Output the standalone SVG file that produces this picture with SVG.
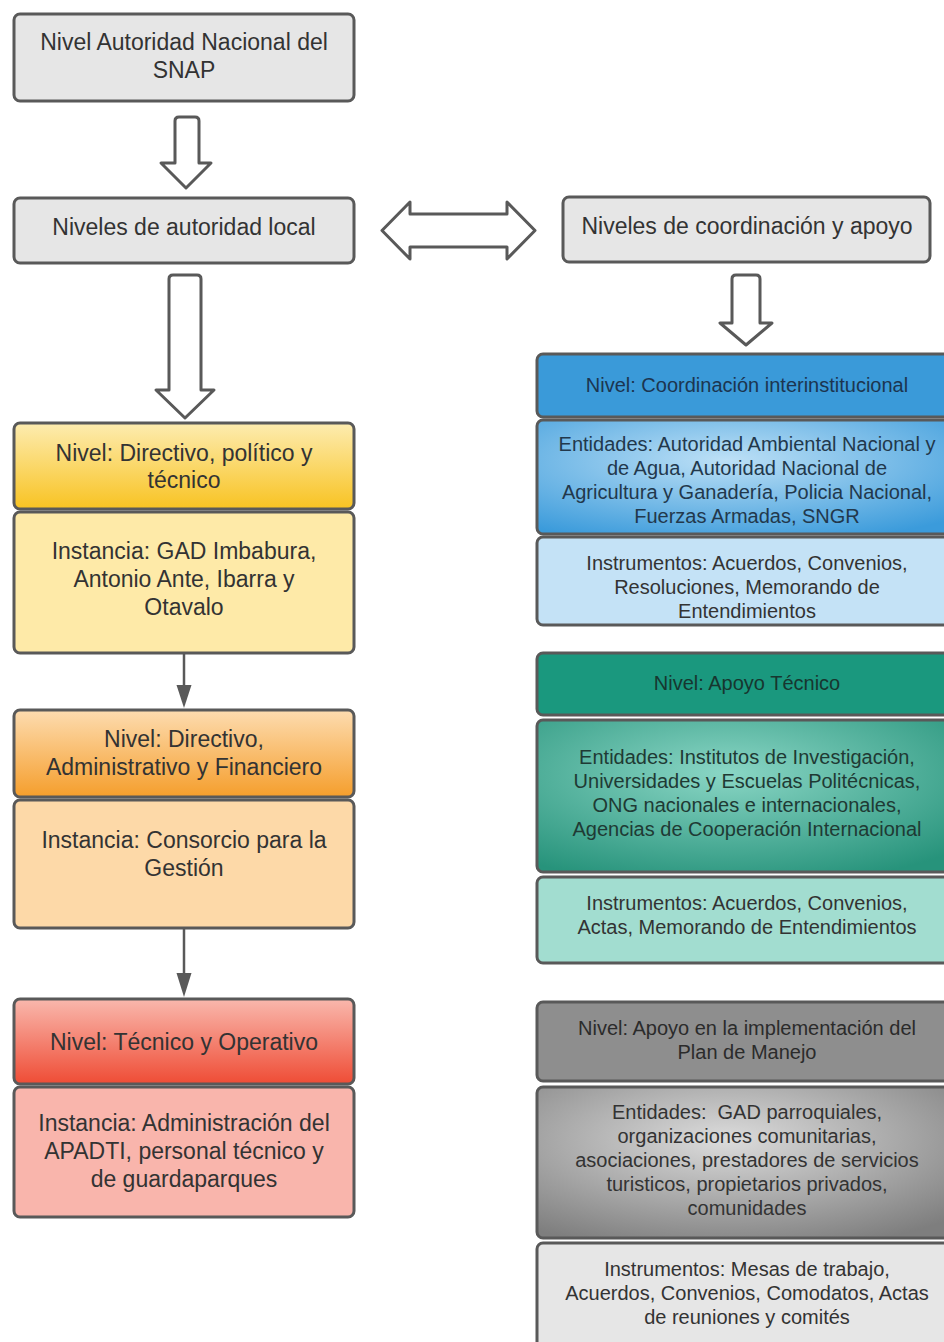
<svg xmlns="http://www.w3.org/2000/svg" width="944" height="1342" viewBox="0 0 944 1342">
<style>
.box{stroke:#595959;stroke-width:3;}
.hol{fill:#ffffff;stroke:#595959;stroke-width:3;stroke-linejoin:round;}
.lt{font-family:"Liberation Sans",Arial,sans-serif;font-size:23px;fill:#333333;text-anchor:middle;}
.rt{font-family:"Liberation Sans",Arial,sans-serif;font-size:20px;fill:#333333;text-anchor:middle;}
.con{stroke:#595959;stroke-width:2.5;fill:none;}
</style>
<defs>
<linearGradient id="gY" x1="0" y1="0" x2="0" y2="1"><stop offset="0" stop-color="#fdecb0"/><stop offset="1" stop-color="#f8c322"/></linearGradient>
<linearGradient id="gO" x1="0" y1="0" x2="0" y2="1"><stop offset="0" stop-color="#fddcb0"/><stop offset="1" stop-color="#f59e2c"/></linearGradient>
<linearGradient id="gR" x1="0" y1="0" x2="0" y2="1"><stop offset="0" stop-color="#f9b8ad"/><stop offset="1" stop-color="#ef4c35"/></linearGradient>
<radialGradient id="rB" cx="0.45" cy="0.35" r="0.75"><stop offset="0" stop-color="#bde0f6"/><stop offset="1" stop-color="#3b9bdb"/></radialGradient>
<radialGradient id="rT" cx="0.45" cy="0.35" r="0.75"><stop offset="0" stop-color="#8ad6c5"/><stop offset="1" stop-color="#27937b"/></radialGradient>
<radialGradient id="rG" cx="0.45" cy="0.35" r="0.75"><stop offset="0" stop-color="#dcdcdc"/><stop offset="1" stop-color="#7e7e7e"/></radialGradient>
<marker id="ah" viewBox="0 0 10 10" refX="10" refY="5" markerWidth="6" markerHeight="9" markerUnits="userSpaceOnUse" orient="auto" preserveAspectRatio="none">
<path d="M0,0 L10,5 L0,10 Z" fill="#595959"/>
</marker>
</defs>
<rect width="944" height="1342" fill="#ffffff"/>

<g id="connectors">
<path class="hol" d="M175,163 L175,121 Q175,117 179,117 L195,117 Q199,117 199,121 L199,163 L211,163 L186,188 L161,163 Z"/>
<path class="hol" d="M169,390 L169,279 Q169,275 173,275 L197,275 Q201,275 201,279 L201,390 L214,390 L185,418 L156,390 Z"/>
<path class="hol" d="M732,323 L732,279 Q732,275 736,275 L756,275 Q760,275 760,279 L760,323 L772,323 L746,345 L720,323 Z"/>
<path class="hol" d="M382,230.5 L410,202 L410,214 L507,214 L507,202 L535,230.5 L507,259 L507,247 L410,247 L410,259 Z"/>
<line class="con" x1="184" y1="654" x2="184" y2="685"/>
<path d="M176.5,685 L191.5,685 L184,708 Z" fill="#595959"/>
<line class="con" x1="184" y1="929" x2="184" y2="973"/>
<path d="M176.5,973 L191.5,973 L184,997 Z" fill="#595959"/>
</g>

<g id="n-snap">
<rect class="box" x="14" y="14" width="340" height="87" rx="6" fill="#e6e6e6"/>
<text class="lt" x="184" y="50">Nivel Autoridad Nacional del</text>
<text class="lt" x="184" y="78">SNAP</text>
</g>

<g id="n-local">
<rect class="box" x="14" y="198" width="340" height="65" rx="6" fill="#e6e6e6"/>
<text class="lt" x="184" y="235">Niveles de autoridad local</text>
</g>

<g id="n-coord">
<rect class="box" x="563" y="197" width="367" height="65" rx="6" fill="#e6e6e6"/>
<text class="lt" x="747" y="234">Niveles de coordinación y apoyo</text>
</g>

<g id="n-directivo-politico">
<rect class="box" x="14" y="423" width="340" height="86" rx="6" fill="url(#gY)"/>
<text class="lt" x="184" y="461">Nivel: Directivo, político y</text>
<text class="lt" x="184" y="488">técnico</text>
</g>
<g id="n-gad">
<rect class="box" x="14" y="512" width="340" height="141" rx="6" fill="#feeaa8"/>
<text class="lt" x="184" y="559">Instancia: GAD Imbabura,</text>
<text class="lt" x="184" y="587">Antonio Ante, Ibarra y</text>
<text class="lt" x="184" y="615">Otavalo</text>
</g>

<g id="n-directivo-admin">
<rect class="box" x="14" y="710" width="340" height="87" rx="6" fill="url(#gO)"/>
<text class="lt" x="184" y="747">Nivel: Directivo,</text>
<text class="lt" x="184" y="775">Administrativo y Financiero</text>
</g>
<g id="n-consorcio">
<rect class="box" x="14" y="800" width="340" height="128" rx="6" fill="#fdd9a8"/>
<text class="lt" x="184" y="848">Instancia: Consorcio para la</text>
<text class="lt" x="184" y="876">Gestión</text>
</g>

<g id="n-tecnico">
<rect class="box" x="14" y="999" width="340" height="85" rx="6" fill="url(#gR)"/>
<text class="lt" x="184" y="1050">Nivel: Técnico y Operativo</text>
</g>
<g id="n-apadti">
<rect class="box" x="14" y="1087" width="340" height="130" rx="6" fill="#f9b5ac"/>
<text class="lt" x="184" y="1131">Instancia: Administración del</text>
<text class="lt" x="184" y="1159">APADTI, personal técnico y</text>
<text class="lt" x="184" y="1187">de guardaparques</text>
</g>

<g id="n-coord-inter">
<rect class="box" x="537" y="354" width="420" height="63" rx="6" fill="#3a9ad9"/>
<text class="rt" x="747" y="392" style="fill:#1c3550">Nivel: Coordinación interinstitucional</text>
</g>
<g id="n-coord-entidades">
<rect class="box" x="537" y="420" width="420" height="114" rx="6" fill="url(#rB)"/>
<text class="rt" x="747" y="451" style="fill:#22384c">Entidades: Autoridad Ambiental Nacional y</text>
<text class="rt" x="747" y="475" style="fill:#22384c">de Agua, Autoridad Nacional de</text>
<text class="rt" x="747" y="499" style="fill:#22384c">Agricultura y Ganadería, Policia Nacional,</text>
<text class="rt" x="747" y="523" style="fill:#22384c">Fuerzas Armadas, SNGR</text>
</g>
<g id="n-coord-instr">
<rect class="box" x="537" y="537" width="420" height="88" rx="6" fill="#c4e2f6"/>
<text class="rt" x="747" y="570">Instrumentos: Acuerdos, Convenios,</text>
<text class="rt" x="747" y="594">Resoluciones, Memorando de</text>
<text class="rt" x="747" y="618">Entendimientos</text>
</g>

<g id="n-apoyo-tec">
<rect class="box" x="537" y="653" width="420" height="62" rx="6" fill="#1a987e"/>
<text class="rt" x="747" y="690" style="fill:#17362f">Nivel: Apoyo Técnico</text>
</g>
<g id="n-apoyo-entidades">
<rect class="box" x="537" y="720" width="420" height="152" rx="6" fill="url(#rT)"/>
<text class="rt" x="747" y="764" style="fill:#1f3a34">Entidades: Institutos de Investigación,</text>
<text class="rt" x="747" y="788" style="fill:#1f3a34">Universidades y Escuelas Politécnicas,</text>
<text class="rt" x="747" y="812" style="fill:#1f3a34">ONG nacionales e internacionales,</text>
<text class="rt" x="747" y="836" style="fill:#1f3a34">Agencias de Cooperación Internacional</text>
</g>
<g id="n-apoyo-instr">
<rect class="box" x="537" y="877" width="420" height="86" rx="6" fill="#a2ddd0"/>
<text class="rt" x="747" y="910">Instrumentos: Acuerdos, Convenios,</text>
<text class="rt" x="747" y="934">Actas, Memorando de Entendimientos</text>
</g>

<g id="n-plan">
<rect class="box" x="537" y="1002" width="420" height="79" rx="6" fill="#8e8e8e"/>
<text class="rt" x="747" y="1035" style="fill:#2b2b2b">Nivel: Apoyo en la implementación del</text>
<text class="rt" x="747" y="1059" style="fill:#2b2b2b">Plan de Manejo</text>
</g>
<g id="n-plan-entidades">
<rect class="box" x="537" y="1087" width="420" height="151" rx="6" fill="url(#rG)"/>
<text class="rt" x="747" y="1119" xml:space="preserve">Entidades:  GAD parroquiales,</text>
<text class="rt" x="747" y="1143">organizaciones comunitarias,</text>
<text class="rt" x="747" y="1167">asociaciones, prestadores de servicios</text>
<text class="rt" x="747" y="1191">turisticos, propietarios privados,</text>
<text class="rt" x="747" y="1215">comunidades</text>
</g>
<g id="n-plan-instr">
<rect class="box" x="537" y="1243" width="420" height="110" rx="6" fill="#e6e6e6"/>
<text class="rt" x="747" y="1276">Instrumentos: Mesas de trabajo,</text>
<text class="rt" x="747" y="1300">Acuerdos, Convenios, Comodatos, Actas</text>
<text class="rt" x="747" y="1324">de reuniones y comités</text>
</g>
</svg>
